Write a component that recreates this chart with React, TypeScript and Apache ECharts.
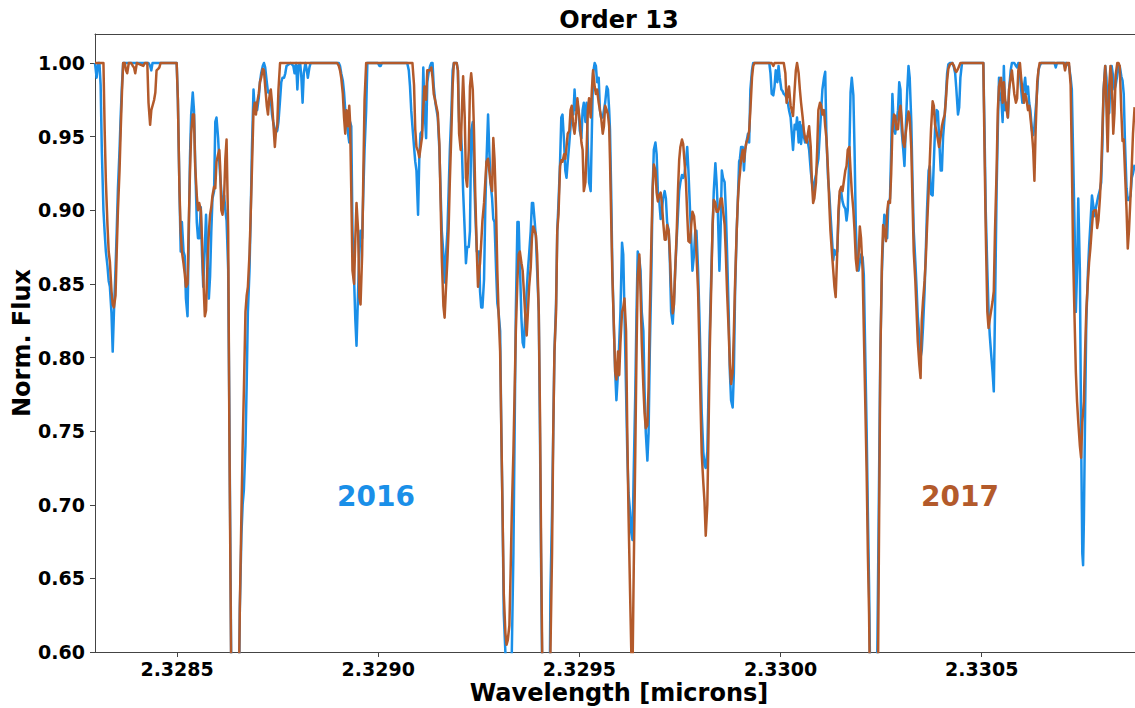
import React, { useEffect, useRef } from 'react';
import * as echarts from 'echarts';

// Wavelength grid (microns), shared by both epochs
const wavelengths = [
  // segment 1
  2.328296, 2.328300, 2.328304, 2.328307, 2.328310, 2.328313, 2.328317, 2.328320, 2.328323, 2.328327,
  2.328330, 2.328333, 2.328337, 2.328340, 2.328343, 2.328347, 2.328350, 2.328353, 2.328357, 2.328360,
  2.328363, 2.328366, 2.328370, 2.328373, 2.328376, 2.328380, 2.328386, 2.328390, 2.328393, 2.328396,
  2.328400, 2.328416, 2.328420, 2.328426, 2.328429, 2.328433, 2.328436, 2.328439, 2.328443, 2.328446,
  2.328449, 2.328453, 2.328456, 2.328459, 2.328499, 2.328502, 2.328506, 2.328509, 2.328512, 2.328516,
  2.328519, 2.328522, 2.328526, 2.328529, 2.328532, 2.328535, 2.328539, 2.328542, 2.328545, 2.328549,
  2.328552, 2.328555, 2.328559, 2.328562, 2.328565, 2.328569, 2.328572, 2.328575, 2.328579, 2.328582,
  2.328585, 2.328588, 2.328592, 2.328595, 2.328598, 2.328602, 2.328605,
  // segment 2
  2.328607, 2.328610, 2.328613, 2.328617, 2.328620, 2.328623, 2.328627, 2.328630, 2.328633, 2.328637,
  2.328643, 2.328650, 2.328653, 2.328656, 2.328660, 2.328663, 2.328666, 2.328670, 2.328673, 2.328676,
  2.328680, 2.328683, 2.328686, 2.328690, 2.328693, 2.328696, 2.328699, 2.328703, 2.328706, 2.328709,
  2.328713, 2.328716, 2.328719, 2.328723, 2.328726, 2.328729, 2.328733, 2.328736, 2.328739, 2.328743,
  2.328746, 2.328749, 2.328752, 2.328756, 2.328759, 2.328762, 2.328766, 2.328769, 2.328772, 2.328782,
  2.328789, 2.328792, 2.328796, 2.328799, 2.328802, 2.328806, 2.328809, 2.328812, 2.328815, 2.328819,
  2.328822, 2.328825, 2.328829, 2.328832, 2.328898, 2.328902, 2.328905, 2.328908, 2.328912, 2.328915,
  2.328918, 2.328921, 2.328925, 2.328928,
  // segment 3
  2.328930, 2.328933, 2.328936, 2.328940, 2.328943, 2.328946, 2.328950, 2.328953, 2.328956, 2.328960,
  2.328963, 2.328966, 2.328970, 2.328973, 2.328999, 2.329003, 2.329006, 2.329009, 2.329072, 2.329076,
  2.329079, 2.329082, 2.329085, 2.329089, 2.329092, 2.329095, 2.329099, 2.329102, 2.329105, 2.329109,
  2.329112, 2.329115, 2.329119, 2.329122, 2.329125, 2.329129, 2.329132, 2.329135, 2.329138, 2.329142,
  2.329145, 2.329148, 2.329152, 2.329155, 2.329158, 2.329162, 2.329165, 2.329168, 2.329172, 2.329175,
  2.329178, 2.329182, 2.329185, 2.329188, 2.329195, 2.329198, 2.329201, 2.329205, 2.329208, 2.329211,
  2.329215, 2.329218, 2.329221, 2.329225, 2.329228, 2.329231, 2.329235, 2.329238, 2.329241, 2.329245,
  2.329248, 2.329251,
  // segment 4
  2.329253, 2.329256, 2.329259, 2.329263, 2.329266, 2.329269, 2.329273, 2.329276, 2.329279, 2.329283,
  2.329286, 2.329289, 2.329293, 2.329296, 2.329299, 2.329303, 2.329306, 2.329309, 2.329312, 2.329316,
  2.329319, 2.329322, 2.329326, 2.329329, 2.329332, 2.329336, 2.329339, 2.329342, 2.329346, 2.329349,
  2.329352, 2.329356, 2.329359, 2.329362, 2.329365, 2.329369, 2.329372, 2.329375, 2.329379, 2.329382,
  2.329385, 2.329389, 2.329392, 2.329395, 2.329399, 2.329402, 2.329405, 2.329409, 2.329415, 2.329422,
  2.329425, 2.329428, 2.329432, 2.329435, 2.329438, 2.329442, 2.329445, 2.329448, 2.329452, 2.329455,
  2.329458, 2.329462, 2.329465, 2.329468, 2.329471, 2.329475, 2.329478, 2.329481, 2.329485, 2.329488,
  2.329491, 2.329495, 2.329498, 2.329501, 2.329505, 2.329508, 2.329511, 2.329515, 2.329518, 2.329521,
  2.329524, 2.329528, 2.329531, 2.329534, 2.329538, 2.329541, 2.329544, 2.329548, 2.329551, 2.329554,
  2.329558, 2.329561, 2.329564, 2.329568, 2.329571, 2.329574,
  // segment 5
  2.329576, 2.329579, 2.329582, 2.329586, 2.329589, 2.329592, 2.329596, 2.329599, 2.329602, 2.329606,
  2.329609, 2.329612, 2.329616, 2.329619, 2.329622, 2.329626, 2.329629, 2.329632, 2.329635, 2.329639,
  2.329642, 2.329645, 2.329649, 2.329652, 2.329655, 2.329659, 2.329662, 2.329665, 2.329669, 2.329672,
  2.329675, 2.329679, 2.329682, 2.329685, 2.329689, 2.329692, 2.329695, 2.329698, 2.329702, 2.329705,
  2.329708, 2.329712, 2.329715, 2.329718, 2.329722, 2.329725, 2.329728, 2.329732, 2.329735, 2.329738,
  2.329742, 2.329745, 2.329748, 2.329751, 2.329755, 2.329758, 2.329761, 2.329765, 2.329768, 2.329771,
  2.329775, 2.329778, 2.329781, 2.329785, 2.329788, 2.329791, 2.329795, 2.329798, 2.329801, 2.329804,
  2.329808, 2.329811, 2.329814, 2.329818, 2.329821, 2.329824, 2.329828, 2.329831, 2.329834, 2.329838,
  2.329841, 2.329844, 2.329848, 2.329851, 2.329854, 2.329857, 2.329861, 2.329864, 2.329867, 2.329871,
  2.329874, 2.329877, 2.329881, 2.329884, 2.329887, 2.329891, 2.329894, 2.329897,
  // segment 6
  2.329899, 2.329902, 2.329906, 2.329909, 2.329912, 2.329915, 2.329919, 2.329922, 2.329925, 2.329929,
  2.329932, 2.329935, 2.329972, 2.329975, 2.329978, 2.329982, 2.329985, 2.329988, 2.329992, 2.329995,
  2.329998, 2.330002, 2.330005, 2.330008, 2.330012, 2.330015, 2.330018, 2.330021, 2.330025, 2.330028,
  2.330031, 2.330035, 2.330038, 2.330041, 2.330045, 2.330048, 2.330051, 2.330055, 2.330058, 2.330061,
  2.330065, 2.330068, 2.330071, 2.330075, 2.330078, 2.330081, 2.330084, 2.330088, 2.330091, 2.330094,
  2.330098, 2.330101, 2.330104, 2.330108, 2.330111, 2.330114, 2.330118, 2.330121, 2.330124, 2.330128,
  2.330131, 2.330134, 2.330137, 2.330141, 2.330144, 2.330147, 2.330151, 2.330154, 2.330157, 2.330161,
  2.330164, 2.330167, 2.330171, 2.330174, 2.330177, 2.330181, 2.330184, 2.330187, 2.330190, 2.330194,
  2.330197, 2.330200, 2.330204, 2.330207, 2.330210, 2.330214, 2.330217, 2.330220,
  // segment 7
  2.330222, 2.330229, 2.330235, 2.330239, 2.330242, 2.330245, 2.330248, 2.330252, 2.330255, 2.330258,
  2.330262, 2.330265, 2.330268, 2.330272, 2.330275, 2.330278, 2.330282, 2.330285, 2.330288, 2.330292,
  2.330295, 2.330298, 2.330301, 2.330305, 2.330308, 2.330311, 2.330315, 2.330318, 2.330321, 2.330325,
  2.330328, 2.330331, 2.330335, 2.330338, 2.330341, 2.330345, 2.330348, 2.330351, 2.330354, 2.330358,
  2.330361, 2.330364, 2.330368, 2.330371, 2.330374, 2.330378, 2.330381, 2.330384, 2.330388, 2.330391,
  2.330394, 2.330398, 2.330401, 2.330404, 2.330408, 2.330411, 2.330414, 2.330417, 2.330421, 2.330427,
  2.330431, 2.330434, 2.330437, 2.330441, 2.330444, 2.330447, 2.330451, 2.330504, 2.330507, 2.330510,
  2.330514, 2.330517, 2.330520, 2.330523, 2.330527, 2.330530, 2.330533, 2.330537, 2.330540, 2.330543,
  // segment 8
  2.330545, 2.330548, 2.330552, 2.330555, 2.330558, 2.330562, 2.330565, 2.330568, 2.330572, 2.330575,
  2.330578, 2.330581, 2.330585, 2.330588, 2.330591, 2.330595, 2.330598, 2.330601, 2.330605, 2.330608,
  2.330611, 2.330615, 2.330618, 2.330621, 2.330625, 2.330628, 2.330631, 2.330634, 2.330638, 2.330641,
  2.330644, 2.330648, 2.330681, 2.330684, 2.330687, 2.330704, 2.330707, 2.330711, 2.330717, 2.330721,
  2.330724, 2.330727, 2.330731, 2.330734, 2.330737, 2.330740, 2.330744, 2.330747, 2.330750, 2.330752,
  2.330754, 2.330757, 2.330760, 2.330764, 2.330767, 2.330770, 2.330774, 2.330777, 2.330780, 2.330784,
  2.330787, 2.330790, 2.330794, 2.330797, 2.330800, 2.330803, 2.330807, 2.330810, 2.330813, 2.330817,
  2.330820, 2.330823, 2.330827, 2.330830, 2.330833, 2.330837, 2.330840, 2.330843, 2.330847, 2.330850,
  2.330853, 2.330856, 2.330860, 2.330863, 2.330866, 2.330870, 2.330873, 2.330876, 2.330880,
];

// Normalised flux, 2016 epoch
const flux2016 = [
  // segment 1
  1, 0.99, 1, 1, 0.985, 0.94, 0.9, 0.885, 0.872, 0.862,
  0.852, 0.848, 0.83, 0.804, 0.83, 0.86, 0.886, 0.915, 0.941, 0.965,
  0.985, 1, 1, 1, 1, 1, 1, 1, 1, 1,
  1, 1, 1, 1, 1, 0.998, 0.995, 1, 1, 1,
  1, 1, 1, 1, 1, 0.975, 0.913, 0.872, 0.892, 0.872,
  0.869, 0.84, 0.828, 0.88, 0.935, 0.965, 0.98, 0.968, 0.933, 0.892,
  0.881, 0.881, 0.902, 0.87, 0.848, 0.875, 0.897, 0.87, 0.84, 0.855,
  0.885, 0.908, 0.913, 0.96, 0.963, 0.949, 0.933,
  // segment 2
  0.924, 0.913, 0.9, 0.91, 0.9, 0.893, 0.86, 0.76, 0.65, 0.5,
  0.33, 0.45, 0.55, 0.63, 0.68, 0.7, 0.71, 0.74, 0.782, 0.831,
  0.859, 0.897, 0.941, 0.982, 0.968, 0.973, 0.968, 0.976, 0.987, 0.993,
  0.998, 1, 0.997, 0.987, 0.98, 0.981, 0.975, 0.965, 0.96, 0.955,
  0.953, 0.954, 0.96, 0.975, 0.987, 0.99, 0.99, 0.993, 0.998, 1,
  0.998, 0.993, 1, 0.982, 0.998, 1, 0.99, 0.973, 0.993, 1,
  0.996, 0.99, 0.997, 1, 1, 1, 0.998, 0.993, 0.988, 0.98,
  0.968, 0.96, 0.952, 0.946,
  // segment 3
  0.96, 0.957, 0.886, 0.853, 0.826, 0.808, 0.845, 0.87, 0.886, 0.881,
  0.913, 0.941, 0.968, 1, 1, 0.998, 0.998, 1, 1, 0.995,
  0.984, 0.968, 0.957, 0.943, 0.933, 0.927, 0.897, 0.935, 0.952, 0.954,
  0.997, 0.968, 0.949, 0.987, 0.993, 0.998, 1, 1, 0.984, 0.973,
  0.968, 0.963, 0.941, 0.913, 0.886, 0.87, 0.851, 0.867, 0.886, 0.913,
  0.941, 0.968, 0.995, 1, 1, 0.995, 0.96, 0.954, 0.941, 0.913,
  0.886, 0.864, 0.875, 0.875, 0.886, 0.954, 0.96, 0.927, 0.9, 0.872,
  0.872, 0.872,
  // segment 4
  0.845, 0.834, 0.834, 0.853, 0.9, 0.933, 0.965, 0.941, 0.919, 0.908,
  0.894, 0.892, 0.859, 0.837, 0.831, 0.818, 0.749, 0.695, 0.626, 0.6,
  0.585, 0.58, 0.582, 0.59, 0.6, 0.667, 0.749, 0.831, 0.892, 0.892,
  0.864, 0.826, 0.81, 0.807, 0.826, 0.845, 0.859, 0.87, 0.886, 0.905,
  0.905, 0.892, 0.881, 0.859, 0.831, 0.749, 0.654, 0.55, 0.35, 0.42,
  0.53, 0.64, 0.695, 0.749, 0.804, 0.837, 0.886, 0.905, 0.933, 0.963,
  0.965, 0.946, 0.927, 0.922, 0.933, 0.946, 0.957, 0.968, 0.965, 0.982,
  0.968, 0.973, 0.968, 0.954, 0.949, 0.968, 0.973, 0.96, 0.973, 0.943,
  0.919, 0.913, 0.954, 0.993, 1, 0.998, 0.987, 0.99, 0.968, 0.963,
  0.963, 0.968, 0.973, 0.984, 0.982, 0.968,
  // segment 5
  0.955, 0.913, 0.859, 0.818, 0.79, 0.771, 0.79, 0.81, 0.831, 0.878,
  0.87, 0.831, 0.777, 0.736, 0.708, 0.695, 0.681, 0.676, 0.722, 0.777,
  0.831, 0.872, 0.867, 0.859, 0.831, 0.818, 0.777, 0.749, 0.73, 0.749,
  0.804, 0.859, 0.913, 0.941, 0.946, 0.938, 0.913, 0.908, 0.894, 0.9,
  0.908, 0.913, 0.908, 0.892, 0.886, 0.864, 0.831, 0.823, 0.837, 0.859,
  0.881, 0.897, 0.913, 0.919, 0.924, 0.922, 0.924, 0.933, 0.943, 0.927,
  0.9, 0.881, 0.859, 0.87, 0.886, 0.886, 0.859, 0.831, 0.799, 0.763,
  0.736, 0.727, 0.725, 0.736, 0.777, 0.818, 0.859, 0.886, 0.913, 0.932,
  0.919, 0.9, 0.859, 0.886, 0.927, 0.922, 0.919, 0.9, 0.872, 0.831,
  0.79, 0.771, 0.766, 0.79, 0.845, 0.886, 0.908, 0.933,
  // segment 6
  0.935, 0.943, 0.943, 0.927, 0.941, 0.946, 0.952, 0.946, 0.982, 0.995,
  1, 1, 1, 0.993, 0.979, 0.978, 0.984, 0.995, 0.987, 0.998,
  0.99, 0.982, 0.981, 0.979, 0.978, 0.976, 0.973, 0.968, 0.963, 0.952,
  0.941, 0.958, 0.955, 0.963, 0.946, 0.96, 0.945, 0.958, 0.95, 0.946,
  0.95, 0.946, 0.941, 0.927, 0.919, 0.913, 0.919, 0.924, 0.93, 0.935,
  0.954, 0.968, 0.982, 0.99, 0.994, 0.95, 0.922, 0.912, 0.898, 0.88,
  0.866, 0.873, 0.87, 0.872, 0.896, 0.91, 0.912, 0.906, 0.903, 0.901,
  0.893, 0.9, 0.94, 0.98, 0.99, 0.978, 0.94, 0.89, 0.864, 0.859,
  0.865, 0.87, 0.868, 0.856, 0.81, 0.75, 0.695, 0.645,
  // segment 7
  0.6, 0.4, 0.45, 0.56, 0.64, 0.722, 0.804, 0.859, 0.881, 0.897,
  0.894, 0.881, 0.905, 0.908, 0.941, 0.979, 0.954, 0.952, 0.96, 0.968,
  0.987, 0.982, 0.954, 0.941, 0.93, 0.954, 0.982, 0.998, 0.99, 0.96,
  0.92, 0.886, 0.865, 0.848, 0.828, 0.814, 0.8, 0.805, 0.82, 0.845,
  0.872, 0.9, 0.927, 0.93, 0.911, 0.91, 0.933, 0.955, 0.968, 0.967,
  0.95, 0.927, 0.927, 0.95, 0.964, 0.978, 0.993, 0.999, 1, 1,
  0.997, 0.993, 0.982, 0.965, 0.97, 0.99, 1, 1, 0.954, 0.9,
  0.859, 0.831, 0.815, 0.804, 0.79, 0.777, 0.831, 0.913, 0.954, 0.99,
  // segment 8
  0.975, 0.979, 0.96, 0.998, 0.968, 0.973, 0.963, 0.982, 0.995, 1,
  1, 1, 0.998, 0.997, 1, 0.993, 0.982, 0.973, 0.984, 0.99,
  0.979, 0.984, 0.973, 0.968, 0.954, 0.951, 0.957, 0.968, 0.982, 0.995,
  0.998, 1, 1, 0.997, 1, 1, 1, 1, 0.998, 0.99,
  0.982, 0.941, 0.886, 0.831, 0.859, 0.908, 0.859, 0.749, 0.667, 0.659,
  0.69, 0.763, 0.825, 0.858, 0.876, 0.89, 0.91, 0.904, 0.896, 0.902,
  0.906, 0.91, 0.914, 0.919, 0.945, 0.982, 0.998, 0.99, 0.968, 0.966,
  0.99, 0.998, 0.99, 0.982, 0.985, 0.992, 0.997, 0.998, 0.991, 0.988,
  0.979, 0.947, 0.915, 0.907, 0.907, 0.91, 0.922, 0.925, 0.931,
];

// Normalised flux, 2017 epoch
const flux2017 = [
  // segment 1
  1, 1, 1, 1, 1, 1, 1, 0.955, 0.92, 0.89,
  0.872, 0.865, 0.845, 0.836, 0.834, 0.842, 0.872, 0.9, 0.927, 0.955,
  0.98, 1, 1, 0.995, 0.993, 1, 1, 0.998, 0.997, 0.993,
  1, 0.998, 1, 1, 0.973, 0.958, 0.968, 0.971, 0.975, 0.98,
  0.995, 0.996, 0.997, 1, 1, 0.975, 0.913, 0.885, 0.872, 0.864,
  0.857, 0.848, 0.85, 0.89, 0.925, 0.952, 0.965, 0.965, 0.93, 0.91,
  0.9, 0.905, 0.9, 0.88, 0.855, 0.828, 0.832, 0.86, 0.885, 0.897,
  0.902, 0.91, 0.916, 0.915, 0.933, 0.938, 0.941,
  // segment 2
  0.93, 0.9, 0.897, 0.91, 0.935, 0.948, 0.886, 0.749, 0.64, 0.5,
  0.32, 0.45, 0.56, 0.63, 0.695, 0.74, 0.777, 0.831, 0.842, 0.848,
  0.87, 0.897, 0.927, 0.968, 0.973, 0.965, 0.973, 0.979, 0.987, 0.99,
  0.996, 0.995, 0.984, 0.971, 0.965, 0.976, 0.982, 0.973, 0.96, 0.943,
  0.954, 0.957, 0.982, 1, 1, 1, 1, 1, 1, 1,
  1, 1, 1, 1, 1, 1, 1, 1, 1, 1,
  1, 1, 1, 1, 1, 0.998, 0.995, 0.99, 0.979, 0.963,
  0.952, 0.968, 0.957, 0.971,
  // segment 3
  0.96, 0.913, 0.859, 0.85, 0.88, 0.905, 0.886, 0.841, 0.836, 0.87,
  0.925, 0.975, 1, 1, 1, 1, 1, 1, 1, 1,
  1, 1, 1, 0.985, 0.955, 0.943, 0.94, 0.936, 0.942, 0.95,
  0.97, 0.984, 0.975, 0.995, 0.995, 0.995, 0.997, 0.99, 0.979, 0.974,
  0.97, 0.966, 0.945, 0.906, 0.867, 0.835, 0.827, 0.845, 0.867, 0.888,
  0.92, 0.955, 0.985, 1, 1, 0.995, 0.952, 0.941, 0.968, 0.991,
  0.963, 0.922, 0.916, 0.941, 0.984, 0.993, 0.982, 0.954, 0.913, 0.872,
  0.848, 0.859,
  // segment 4
  0.864, 0.878, 0.893, 0.905, 0.919, 0.933, 0.935, 0.927, 0.919, 0.913,
  0.949, 0.935, 0.9, 0.859, 0.831, 0.804, 0.749, 0.695, 0.64, 0.613,
  0.605, 0.608, 0.618, 0.654, 0.695, 0.736, 0.777, 0.818, 0.853, 0.87,
  0.872, 0.864, 0.859, 0.845, 0.831, 0.815, 0.831, 0.848, 0.861, 0.881,
  0.889, 0.886, 0.883, 0.87, 0.831, 0.763, 0.667, 0.56, 0.33, 0.4,
  0.5, 0.6, 0.667, 0.749, 0.804, 0.831, 0.886, 0.897, 0.93, 0.934,
  0.933, 0.938, 0.935, 0.943, 0.952, 0.954, 0.968, 0.971, 0.957, 0.952,
  0.96, 0.976, 0.968, 0.96, 0.946, 0.941, 0.913, 0.919, 0.941, 0.968,
  0.976, 0.963, 0.982, 0.995, 0.984, 0.979, 0.982, 0.973, 0.968, 0.963,
  0.952, 0.957, 0.971, 0.968, 0.965, 0.957,
  // segment 5
  0.935, 0.895, 0.855, 0.818, 0.79, 0.785, 0.804, 0.788, 0.81, 0.831,
  0.834, 0.84, 0.818, 0.749, 0.695, 0.64, 0.6, 0.585, 0.655, 0.737,
  0.805, 0.855, 0.87, 0.845, 0.81, 0.78, 0.762, 0.752, 0.754, 0.78,
  0.83, 0.88, 0.914, 0.931, 0.927, 0.912, 0.906, 0.91, 0.912, 0.905,
  0.893, 0.88, 0.88, 0.89, 0.886, 0.87, 0.848, 0.83, 0.836, 0.858,
  0.886, 0.913, 0.934, 0.943, 0.948, 0.945, 0.934, 0.918, 0.897, 0.879,
  0.878, 0.89, 0.899, 0.896, 0.886, 0.87, 0.845, 0.81, 0.77, 0.735,
  0.715, 0.702, 0.679, 0.7, 0.75, 0.805, 0.852, 0.89, 0.907, 0.905,
  0.899, 0.899, 0.902, 0.908, 0.908, 0.9, 0.89, 0.87, 0.845, 0.818,
  0.795, 0.782, 0.79, 0.818, 0.851, 0.886, 0.907, 0.92,
  // segment 6
  0.925, 0.935, 0.941, 0.933, 0.941, 0.946, 0.949, 0.954, 0.968, 0.99,
  0.998, 1, 1, 1, 1, 0.998, 1, 1, 1, 1,
  1, 1, 1, 1, 0.993, 0.973, 0.979, 0.984, 0.971, 0.968,
  0.964, 0.982, 0.995, 1, 0.993, 0.982, 0.973, 0.963, 0.954, 0.949,
  0.946, 0.952, 0.957, 0.943, 0.919, 0.905, 0.908, 0.919, 0.941, 0.968,
  0.973, 0.971, 0.965, 0.968, 0.957, 0.949, 0.927, 0.905, 0.886, 0.87,
  0.859, 0.848, 0.841, 0.872, 0.9, 0.913, 0.916, 0.913, 0.919, 0.927,
  0.93, 0.941, 0.943, 0.927, 0.913, 0.9, 0.886, 0.867, 0.859, 0.87,
  0.889, 0.881, 0.859, 0.818, 0.777, 0.722, 0.667, 0.626,
  // segment 7
  0.58, 0.38, 0.42, 0.5, 0.58, 0.69, 0.8, 0.865, 0.89, 0.886,
  0.879, 0.899, 0.906, 0.905, 0.925, 0.955, 0.965, 0.964, 0.955, 0.955,
  0.966, 0.971, 0.962, 0.946, 0.943, 0.952, 0.961, 0.967, 0.963, 0.942,
  0.906, 0.872, 0.852, 0.832, 0.811, 0.795, 0.786, 0.825, 0.838, 0.852,
  0.867, 0.888, 0.913, 0.934, 0.955, 0.974, 0.971, 0.958, 0.953, 0.948,
  0.943, 0.95, 0.957, 0.961, 0.965, 0.975, 0.988, 0.996, 0.999, 1,
  0.998, 0.995, 0.994, 0.996, 0.998, 1, 1, 1, 0.941, 0.886,
  0.831, 0.82, 0.826, 0.831, 0.838, 0.845, 0.886, 0.927, 0.968, 0.984,
  // segment 8
  0.987, 0.99, 0.973, 0.987, 0.976, 0.968, 0.963, 0.982, 0.99, 0.995,
  0.987, 0.979, 0.973, 0.976, 0.995, 1, 0.99, 0.982, 0.973, 0.979,
  0.976, 0.968, 0.971, 0.963, 0.952, 0.941, 0.92, 0.954, 0.987, 0.995,
  1, 1, 1, 1, 1, 1, 0.995, 1, 1, 0.985,
  0.935, 0.872, 0.824, 0.79, 0.77, 0.756, 0.74, 0.732, 0.756, 0.763,
  0.77, 0.804, 0.832, 0.852, 0.865, 0.874, 0.889, 0.899, 0.9, 0.9,
  0.888, 0.893, 0.909, 0.927, 0.955, 0.982, 0.998, 0.97, 0.94, 0.985,
  0.998, 0.99, 0.952, 0.966, 0.992, 1, 1, 0.998, 0.967, 0.947,
  0.948, 0.927, 0.9, 0.874, 0.886, 0.91, 0.93, 0.952, 0.97,
];

const xTickValues = [2.3285, 2.329, 2.3295, 2.33, 2.3305];
const yTickValues = [0.6, 0.65, 0.7, 0.75, 0.8, 0.85, 0.9, 0.95, 1.0];
const seriesNames = ['2016', '2017'];
const seriesColors = ['#1a8fe8', '#b35a2b'];

const X_MIN = 2.328296;
const X_MAX = 2.330881;
const Y_MIN = 0.6;
const Y_MAX = 1.0197;

export default function App() {
  const ref = useRef<HTMLDivElement>(null);

  useEffect(() => {
    if (!ref.current) return;
    const chart = echarts.init(ref.current, null, { renderer: 'svg' });
    const n = Math.min(wavelengths.length, flux2016.length, flux2017.length);
    const d16: number[][] = [];
    const d17: number[][] = [];
    for (let i = 0; i < n; i++) {
      d16.push([wavelengths[i], flux2016[i]]);
      d17.push([wavelengths[i], flux2017[i]]);
    }
    const font = 'DejaVu Sans';
    const axisColor = '#444';
    const tickLabel = {
      fontFamily: font,
      fontWeight: 'bold' as const,
      fontSize: 19,
      color: '#000',
    };
    const bigText = (text: string, x: number, y: number, color: string, size: number, rotation = 0) => ({
      type: 'text',
      x,
      y,
      rotation,
      silent: true,
      style: {
        text,
        fill: color,
        fontFamily: font,
        fontWeight: 'bold',
        fontSize: size,
        align: 'center',
        verticalAlign: 'middle',
        textAlign: 'center',
        textVerticalAlign: 'middle',
      },
    });

    chart.setOption({
      animation: false,
      backgroundColor: '#ffffff',
      grid: { left: 95, right: 0, top: 34, bottom: 56, containLabel: false },
      xAxis: [
        {
          type: 'value',
          min: X_MIN,
          max: X_MAX,
          position: 'bottom',
          axisLine: { show: true, onZero: false, lineStyle: { color: axisColor, width: 1 } },
          axisTick: { show: true, customValues: xTickValues, length: 5, lineStyle: { color: axisColor } },
          axisLabel: {
            ...tickLabel,
            customValues: xTickValues,
            margin: 7,
            formatter: (v: number) => v.toFixed(4),
          },
          splitLine: { show: false },
        },
        {
          type: 'value',
          min: X_MIN,
          max: X_MAX,
          position: 'top',
          axisLine: { show: true, onZero: false, lineStyle: { color: axisColor, width: 1 } },
          axisTick: { show: false },
          axisLabel: { show: false },
          splitLine: { show: false },
        },
      ],
      yAxis: {
        type: 'value',
        min: Y_MIN,
        max: Y_MAX,
        axisLine: { show: true, onZero: false, lineStyle: { color: axisColor, width: 1 } },
        axisTick: { show: true, customValues: yTickValues, length: 5, lineStyle: { color: axisColor } },
        axisLabel: {
          ...tickLabel,
          customValues: yTickValues,
          margin: 10,
          formatter: (v: number) => v.toFixed(2),
        },
        splitLine: { show: false },
      },
      series: [
        {
          name: seriesNames[0],
          type: 'line',
          data: d16,
          xAxisIndex: 0,
          showSymbol: false,
          symbol: 'none',
          clip: true,
          z: 2,
          lineStyle: { color: seriesColors[0], width: 2.5, join: 'round' },
          itemStyle: { color: seriesColors[0] },
        },
        {
          name: seriesNames[1],
          type: 'line',
          data: d17,
          xAxisIndex: 0,
          showSymbol: false,
          symbol: 'none',
          clip: true,
          z: 3,
          lineStyle: { color: seriesColors[1], width: 2.5, join: 'round' },
          itemStyle: { color: seriesColors[1] },
        },
      ],
      graphic: [
        bigText('Order 13', 619, 20, '#000', 24),
        bigText('Wavelength [microns]', 619, 693, '#000', 24),
        bigText('Norm. Flux', 22, 343, '#000', 24, Math.PI / 2),
        bigText(seriesNames[0], 376, 496, seriesColors[0], 28),
        bigText(seriesNames[1], 960, 496, seriesColors[1], 28),
      ],
    });
    return () => chart.dispose();
  }, []);

  return (
    <div
      ref={ref}
      style={{ position: 'fixed', left: 0, top: 0, width: 1135, height: 708, background: '#fff' }}
    />
  );
}
